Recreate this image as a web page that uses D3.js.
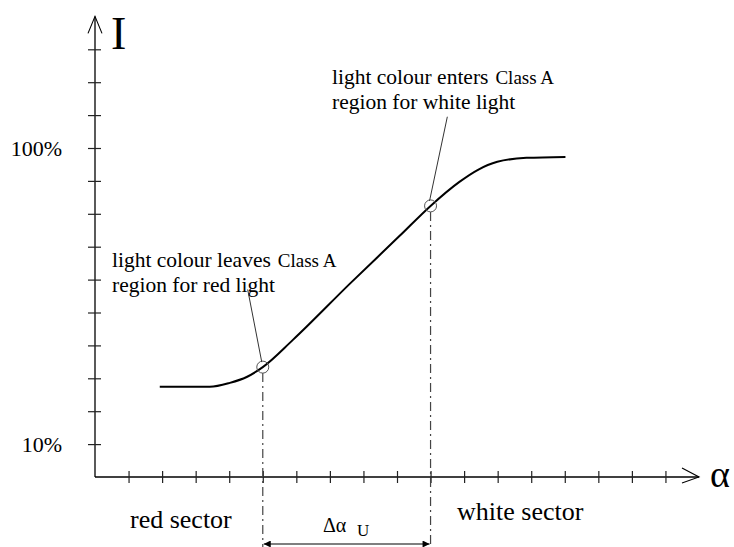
<!DOCTYPE html>
<html>
<head>
<meta charset="utf-8">
<script src="https://cdn.jsdelivr.net/npm/d3@7"></script>
<style>
  html, body { margin: 0; padding: 0; background: #fff; }
  svg { display: block; }
  text { font-family: "Liberation Serif", "Times New Roman", serif; fill: #000; }
</style>
</head>
<body>
<script>
// ---- data ----
const alphaValues     = [1.93, 3.42, 4.02, 4.52, 5.0, 5.89, 7.59, 9.08, 10.0, 10.86, 11.4, 11.99, 12.86, 14.02];
const intensityValues = [27.4, 27.4, 28.6, 30.4, 33.4, 41.6, 58.7, 73.3, 82.4, 89.7, 93.3, 95.8, 97.0, 97.3];
const markerAlpha     = [5, 10];
const markerIntensity = [33.4, 82.4];
const xTickValues     = d3.range(1, 18);          // 1..17
const yTickValues     = d3.range(10, 140, 10);    // 10..130
const yTickLabels     = {10: "10%", 100: "100%"};
const annotations = [
  {lines: [["light colour leaves", "Class A"], ["region for red light"]], ax: 4.55, ai: 57.0, idx: 0},
  {lines: [["light colour enters", "Class A"], ["region for white light"]], ax: 10.5, ai: 109.5, idx: 1}
];

const W = 734, H = 547;
const svg = d3.select("body").append("svg").attr("width", W).attr("height", H);

const x = d3.scaleLinear().domain([0, 18]).range([95, 699]);
const y = d3.scaleLinear().domain([0, 100]).range([477, 148]);

// ---- axes ----
const xAxis = svg.append("g").attr("transform", `translate(0,${y(0)})`)
  .call(d3.axisBottom(x).tickValues(xTickValues).tickFormat("").tickSizeOuter(0));
xAxis.select(".domain").attr("d", `M${x(0)},0H${x(18)}`).attr("stroke", "#000").attr("stroke-width", 1.3);
xAxis.selectAll(".tick line").attr("y1", -6).attr("y2", 6).attr("stroke", "#222").attr("stroke-width", 1.2);

const yAxis = svg.append("g").attr("transform", `translate(${x(0)},0)`)
  .call(d3.axisLeft(y).tickValues(yTickValues).tickFormat(d => yTickLabels[d] || "").tickSizeOuter(0).tickPadding(27));
yAxis.select(".domain").attr("d", `M0,${y(0)}V${y(140)}`).attr("stroke", "#000").attr("stroke-width", 1.3);
yAxis.selectAll(".tick line").attr("x1", -7).attr("x2", 6).attr("stroke", "#222").attr("stroke-width", 1.2);
yAxis.selectAll(".tick text")
  .style("font-family", '"Liberation Serif", serif').style("font-size", "22px").attr("fill", "#000");

// axis arrows (open)
svg.append("path")
  .attr("d", `M${x(0) - 7},${y(140) + 17}L${x(0)},${y(140)}L${x(0) + 7},${y(140) + 17}`)
  .attr("fill", "none").attr("stroke", "#000").attr("stroke-width", 1.1);
svg.append("path")
  .attr("d", `M${x(18) - 17},${y(0) - 9}L${x(18)},${y(0)}L${x(18) - 17},${y(0) + 6}`)
  .attr("fill", "none").attr("stroke", "#000").attr("stroke-width", 1.1);

// axis titles
svg.append("text").attr("x", x(0) + 16).attr("y", 49).style("font-size", "46px").text("I");
svg.append("text").attr("x", 710).attr("y", 487).style("font-size", "38px").text("α");

// ---- dash-dot guides ----
markerAlpha.forEach((a, i) => {
  svg.append("line")
    .attr("x1", x(a)).attr("x2", x(a))
    .attr("y1", y(markerIntensity[i]) + 6).attr("y2", H)
    .attr("stroke", "#444").attr("stroke-width", 1.2)
    .attr("stroke-dasharray", "9,4,2,4");
});

// ---- curve ----
const pts = alphaValues.map((a, i) => [a, intensityValues[i]]);
svg.append("path").datum(pts)
  .attr("d", d3.line().x(d => x(d[0])).y(d => y(d[1])).curve(d3.curveMonotoneX))
  .attr("fill", "none").attr("stroke", "#000").attr("stroke-width", 2);

// ---- markers ----
markerAlpha.forEach((a, i) => {
  svg.append("circle").attr("cx", x(a)).attr("cy", y(markerIntensity[i])).attr("r", 6)
    .attr("fill", "none").attr("stroke", "#555").attr("stroke-width", 1);
});

// ---- annotations ----
const annoPos = [{x: 112, y: 267}, {x: 332, y: 84}];
const lineGap = 24.5;
annotations.forEach((an, k) => {
  const p = annoPos[k];
  an.lines.forEach((ln, j) => {
    const t = svg.append("text").attr("x", p.x).attr("y", p.y + j * lineGap).style("font-size", "21.5px").text(ln[0]);
    if (ln[1]) {
      const w = t.node().getComputedTextLength();
      svg.append("text").attr("x", p.x + w + 7).attr("y", p.y + j * lineGap).style("font-size", "19px").text(ln[1]);
    }
  });
  // leader line
  const mx = x(markerAlpha[an.idx]), my = y(markerIntensity[an.idx]);
  svg.append("line")
    .attr("x1", x(an.ax)).attr("y1", y(an.ai))
    .attr("x2", mx - 1).attr("y2", my - 5)
    .attr("stroke", "#333").attr("stroke-width", 1);
});

// ---- sector labels ----
svg.append("text").attr("x", 130).attr("y", 528).style("font-size", "26px").text("red sector");
svg.append("text").attr("x", 457).attr("y", 520).style("font-size", "26px").text("white sector");

// ---- Δα_U double arrow ----
const defs = svg.append("defs");
defs.append("marker").attr("id", "ah").attr("viewBox", "0 0 10 10").attr("refX", 10).attr("refY", 5)
  .attr("markerWidth", 9).attr("markerHeight", 7).attr("markerUnits", "userSpaceOnUse").attr("orient", "auto-start-reverse")
  .append("path").attr("d", "M0,0L10,5L0,10Z").attr("fill", "#000");
svg.append("line")
  .attr("x1", x(markerAlpha[0]) + 1).attr("x2", x(markerAlpha[1]) - 1)
  .attr("y1", 544).attr("y2", 544)
  .attr("stroke", "#000").attr("stroke-width", 1.2)
  .attr("marker-start", "url(#ah)").attr("marker-end", "url(#ah)");
svg.append("text").attr("x", 323).attr("y", 532).style("font-size", "20px").text("Δα");
svg.append("text").attr("x", 357).attr("y", 536).style("font-size", "17px").text("U");
</script>
</body>
</html>
